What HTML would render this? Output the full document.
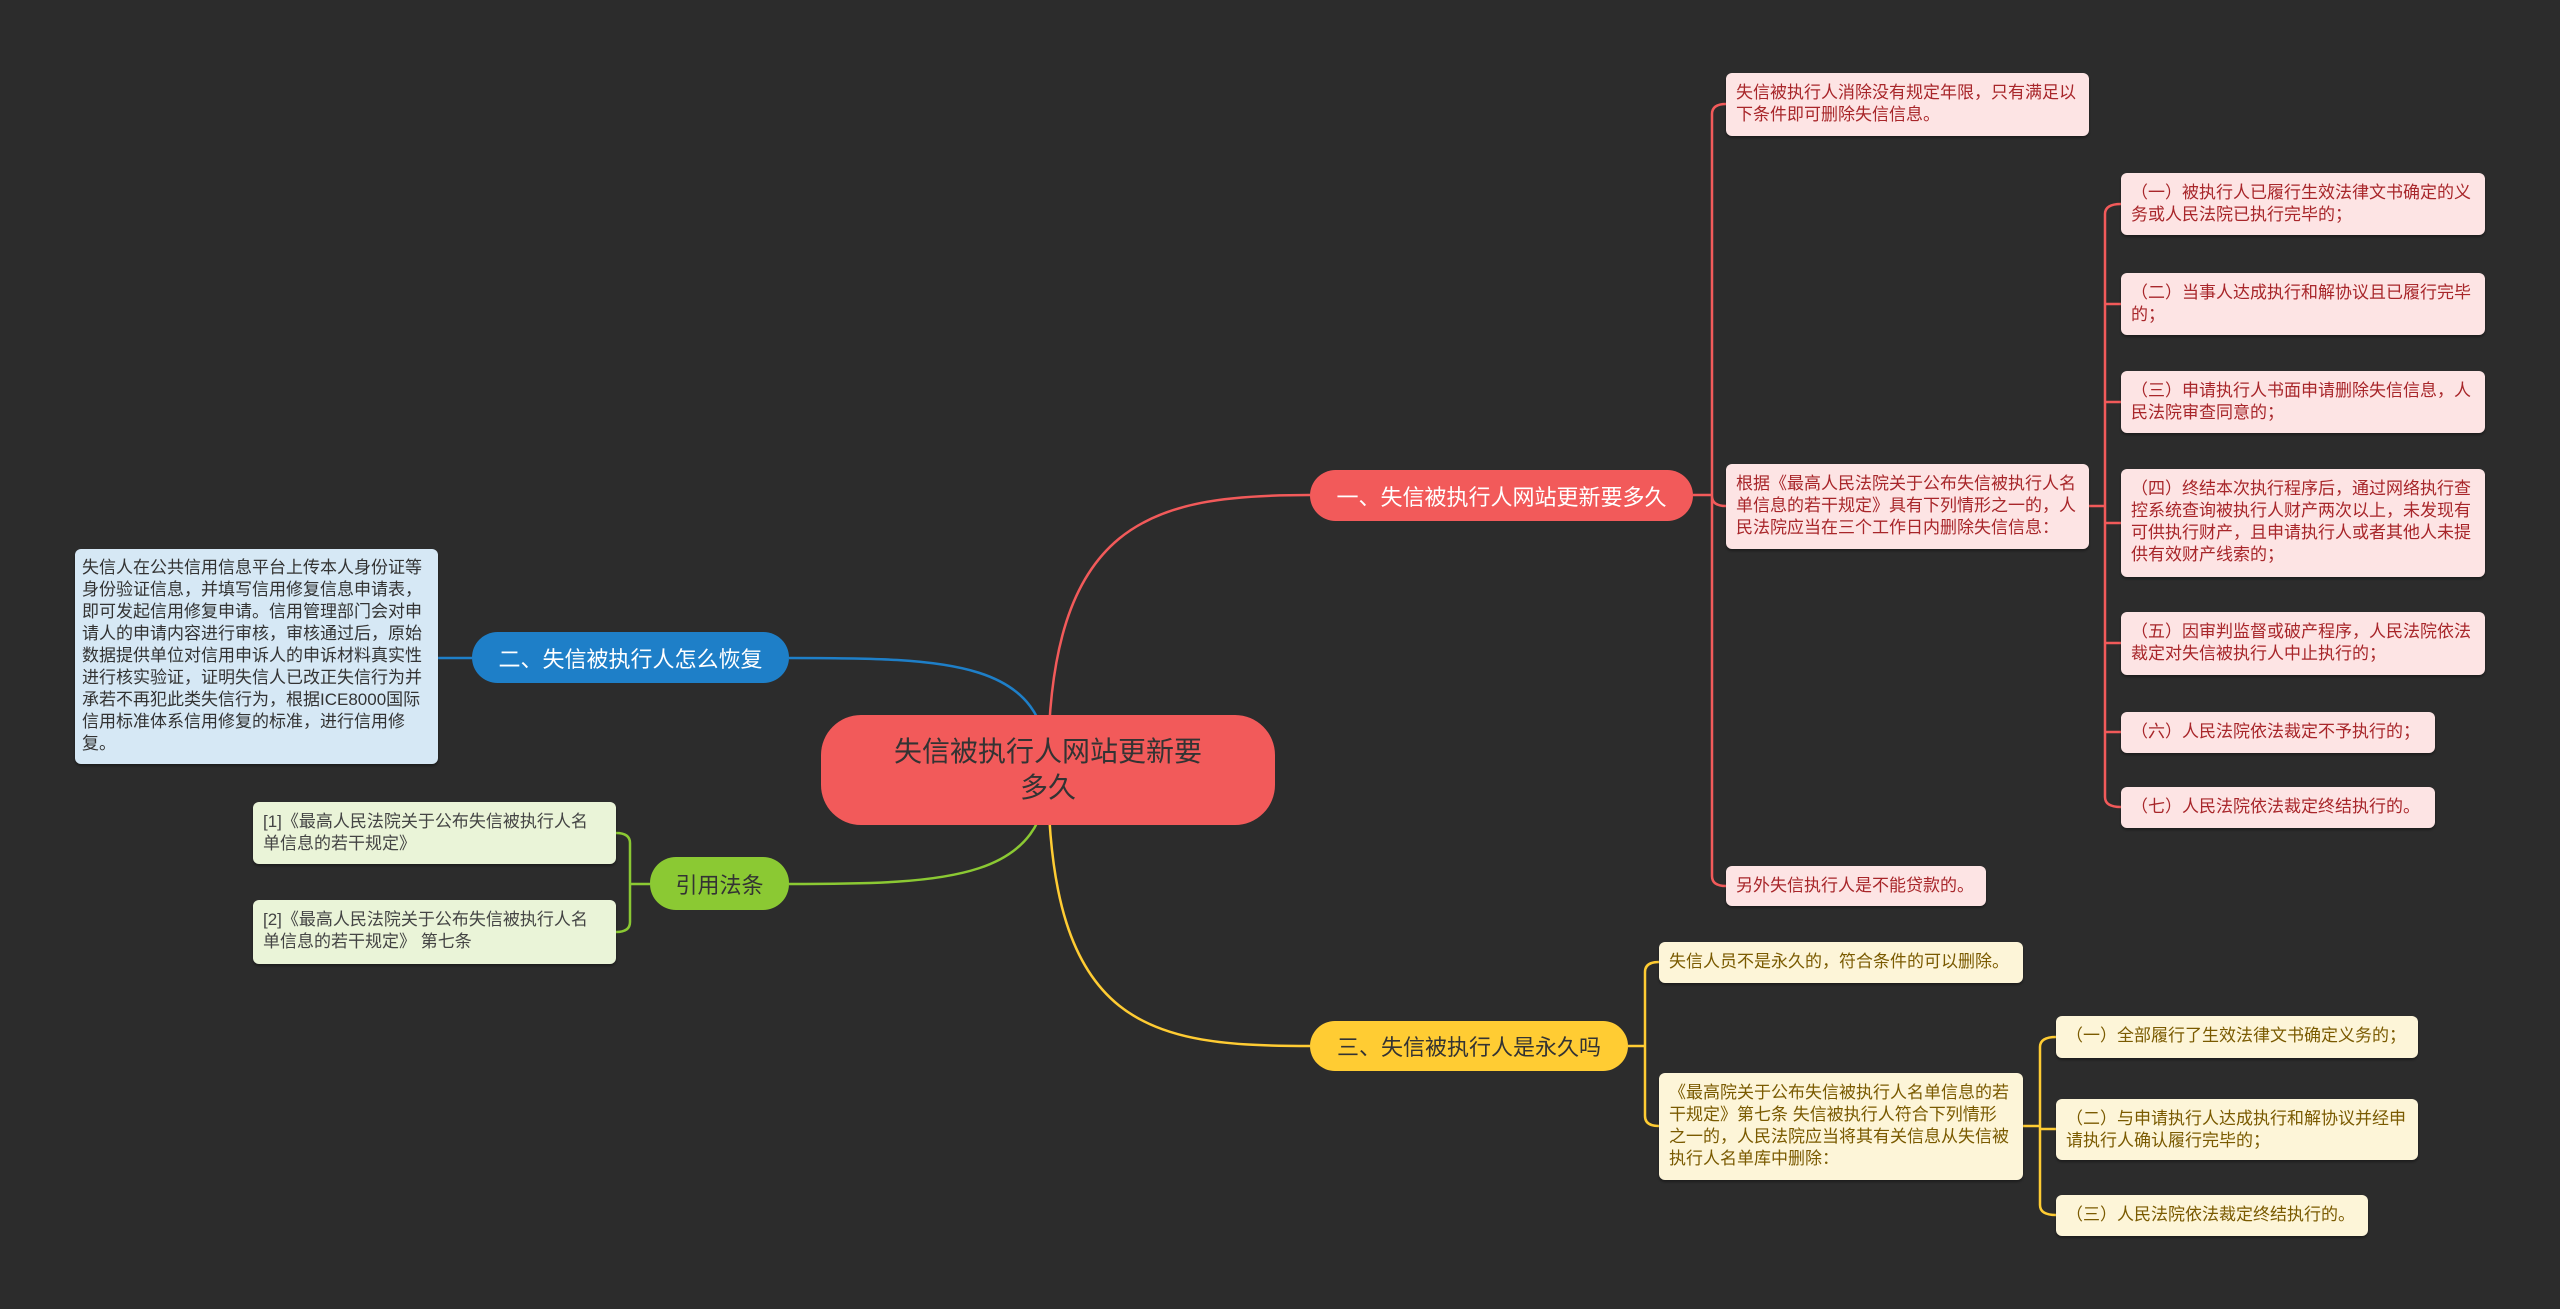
<!DOCTYPE html>
<html><head><meta charset="utf-8"><style>
body{margin:0;width:2560px;height:1309px;background:#2c2c2c;position:relative;overflow:hidden;font-family:"Liberation Sans","Noto Sans CJK SC",sans-serif}
.n{position:absolute;box-sizing:border-box;border-radius:6px;font-size:17px;line-height:22px;padding:9px 10px;box-shadow:0 2px 2px rgba(0,0,0,.35)}
.r{background:#fde4e4;color:#a8262a}
.y{background:#fdf5d8;color:#7a5a00}
.b{background:#d6e8f5;color:#333}
.g{background:#eaf4d8;color:#444}
.br{position:absolute;box-sizing:border-box;border-radius:26px;font-size:22px;display:flex;align-items:center;justify-content:center;white-space:nowrap}
svg{position:absolute;left:0;top:0}
</style></head><body>
<svg width="2560" height="1309" fill="none" stroke-width="2.5">
<path d="M1048 770 C1048 520,1150 495,1310 495" stroke="#f25a5a"/>
<path d="M1048 770 C1048 660,950 658,789 658" stroke="#1e7fc8"/>
<path d="M1048 770 C1048 880,950 884,789 884" stroke="#8bc933"/>
<path d="M1048 770 C1048 1030,1150 1046,1310 1046" stroke="#ffcc33"/>
<path d="M1693 495 H1712 M1712 495 V114 Q1712 104 1726 104 M1712 495 V496 Q1712 506 1726 506 M1712 495 V876 Q1712 886 1726 886" stroke="#f25a5a"/>
<path d="M2089 506 H2105 M2105 214 Q2105 204 2121 204 M2105 214 V797 Q2105 807 2121 807 M2105 304 H2121 M2105 402 H2121 M2105 523 H2121 M2105 643 H2121 M2105 732 H2121" stroke="#f25a5a"/>
<path d="M1628 1046 H1645 M1645 972 Q1645 962 1659 962 M1645 972 V1116 Q1645 1126 1659 1126" stroke="#ffcc33"/>
<path d="M2023 1126 H2040 M2040 1047 Q2040 1037 2056 1037 M2040 1047 V1205 Q2040 1215 2056 1215 M2040 1129 H2056" stroke="#ffcc33"/>
<path d="M438 658 H472" stroke="#1e7fc8"/>
<path d="M650 884 H630 M630 843 Q630 833 616 833 M630 843 V922 Q630 932 616 932" stroke="#8bc933"/>
</svg>
<div class="br" style="left:821px;top:715px;width:454px;height:110px;border-radius:40px;background:#f25a5a;color:#333;font-size:28px;line-height:36px;white-space:normal;text-align:center;padding:0 60px">失信被执行人网站更新要多久</div>
<div class="br" style="left:1310px;top:470px;width:383px;height:51px;background:#f25a5a;color:#fff">一、失信被执行人网站更新要多久</div>
<div class="br" style="left:472px;top:632px;width:317px;height:51px;background:#1e7fc8;color:#fff">二、失信被执行人怎么恢复</div>
<div class="br" style="left:650px;top:857px;width:139px;height:53px;background:#8bc933;color:#333">引用法条</div>
<div class="br" style="left:1310px;top:1021px;width:318px;height:50px;background:#ffcc33;color:#333">三、失信被执行人是永久吗</div>

<div class="n b" style="left:75px;top:549px;width:363px;height:215px;padding:8px 7px">失信人在公共信用信息平台上传本人身份证等身份验证信息，并填写信用修复信息申请表，即可发起信用修复申请。信用管理部门会对申请人的申请内容进行审核，审核通过后，原始数据提供单位对信用申诉人的申诉材料真实性进行核实验证，证明失信人已改正失信行为并承若不再犯此类失信行为，根据ICE8000国际信用标准体系信用修复的标准，进行信用修复。</div>
<div class="n g" style="left:253px;top:802px;width:363px;height:62px;padding-right:22px">[1]《最高人民法院关于公布失信被执行人名单信息的若干规定》</div>
<div class="n g" style="left:253px;top:900px;width:363px;height:64px;padding-right:22px">[2]《最高人民法院关于公布失信被执行人名单信息的若干规定》 第七条</div>

<div class="n r" style="left:1726px;top:73px;width:363px;height:63px">失信被执行人消除没有规定年限，只有满足以下条件即可删除失信信息。</div>
<div class="n r" style="left:1726px;top:464px;width:363px;height:85px">根据《最高人民法院关于公布失信被执行人名单信息的若干规定》具有下列情形之一的，人民法院应当在三个工作日内删除失信信息：</div>
<div class="n r" style="left:1726px;top:866px;width:260px;height:40px">另外失信执行人是不能贷款的。</div>
<div class="n r" style="left:2121px;top:173px;width:364px;height:62px">（一）被执行人已履行生效法律文书确定的义务或人民法院已执行完毕的；</div>
<div class="n r" style="left:2121px;top:273px;width:364px;height:62px">（二）当事人达成执行和解协议且已履行完毕的；</div>
<div class="n r" style="left:2121px;top:371px;width:364px;height:62px">（三）申请执行人书面申请删除失信信息，人民法院审查同意的；</div>
<div class="n r" style="left:2121px;top:469px;width:364px;height:108px">（四）终结本次执行程序后，通过网络执行查控系统查询被执行人财产两次以上，未发现有可供执行财产，且申请执行人或者其他人未提供有效财产线索的；</div>
<div class="n r" style="left:2121px;top:612px;width:364px;height:63px">（五）因审判监督或破产程序，人民法院依法裁定对失信被执行人中止执行的；</div>
<div class="n r" style="left:2121px;top:712px;width:314px;height:41px">（六）人民法院依法裁定不予执行的；</div>
<div class="n r" style="left:2121px;top:787px;width:314px;height:41px">（七）人民法院依法裁定终结执行的。</div>

<div class="n y" style="left:1659px;top:942px;width:364px;height:41px">失信人员不是永久的，符合条件的可以删除。</div>
<div class="n y" style="left:1659px;top:1073px;width:364px;height:107px">《最高院关于公布失信被执行人名单信息的若干规定》第七条 失信被执行人符合下列情形之一的，人民法院应当将其有关信息从失信被执行人名单库中删除：</div>
<div class="n y" style="left:2056px;top:1016px;width:362px;height:42px">（一）全部履行了生效法律文书确定义务的；</div>
<div class="n y" style="left:2056px;top:1099px;width:362px;height:61px">（二）与申请执行人达成执行和解协议并经申请执行人确认履行完毕的；</div>
<div class="n y" style="left:2056px;top:1195px;width:312px;height:41px">（三）人民法院依法裁定终结执行的。</div>
</body></html>
